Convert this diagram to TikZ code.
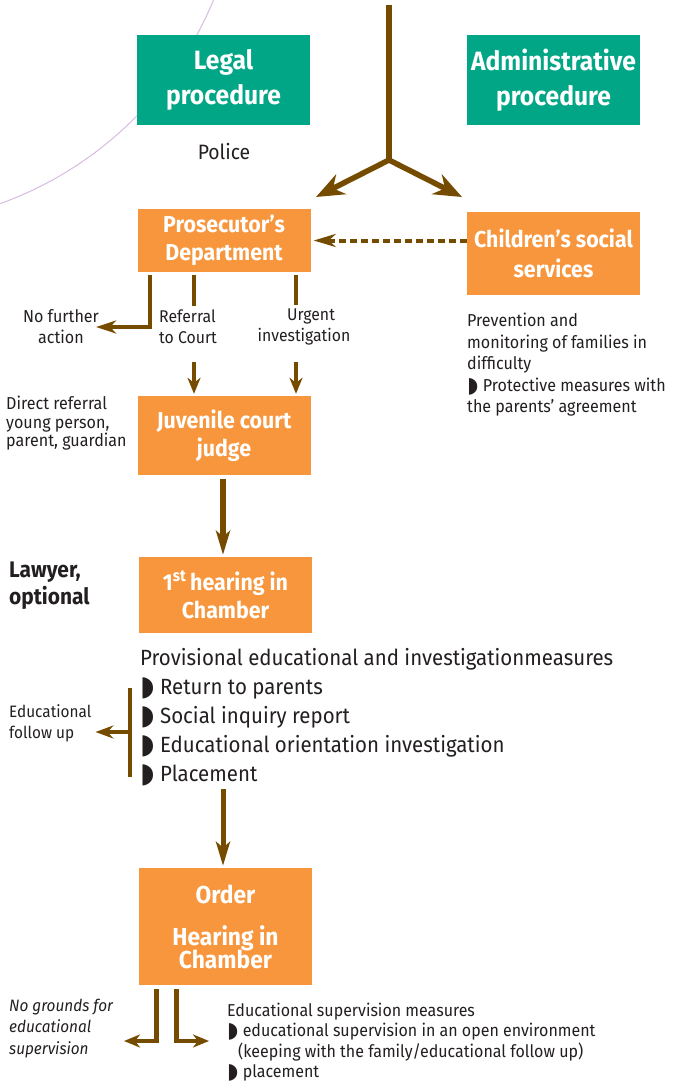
\documentclass[tikz,border=0pt]{standalone}
\usepackage{fontspec}
\setmainfont{Fira Sans}[FakeStretch=0.93]
\newfontfamily\bulfont{DejaVu Sans}
\usetikzlibrary{arrows.meta}

\definecolor{procgreen}{RGB}{0,166,133}
\definecolor{stageorange}{RGB}{247,150,60}
\definecolor{flowbrown}{RGB}{117,75,0}
\definecolor{arcpurple}{RGB}{214,188,224}
\definecolor{inkgray}{RGB}{35,31,32}

\newcommand{\bul}{\raisebox{-0.06em}{\scalebox{1.25}{\bulfont\char"25D7}}}

\tikzset{
  procbox/.style={fill=procgreen,text=white,font=\fontsize{26.5}{35}\selectfont\bfseries,
    minimum width=173pt,minimum height=90pt,align=center,inner sep=0pt},
  stagebox/.style={fill=stageorange,text=white,font=\fontsize{23}{28}\selectfont\bfseries,
    minimum width=173pt,align=center,inner sep=0pt},
  note/.style={text=inkgray,font=\fontsize{17.3}{21}\selectfont,inner sep=0pt},
  flow/.style={draw=flowbrown,line width=5.5pt},
  branch/.style={draw=flowbrown,line width=4.5pt},
}

\begin{document}
\begin{tikzpicture}[x=1pt,y=-1pt]
      \useasboundingbox (0,0) rectangle (674,1084);
      \begin{scope}
        \clip (0,0) rectangle (674,1084);
        \draw[arcpurple,line width=1pt] (-123,-139) circle (364pt);
      \end{scope}

      \path (223.5,80) node [procbox](legal){Legal\\procedure};
      \path (553.5,80) node [procbox](admin){Administrative\\procedure};
      \path (224,152) node [note,font=\fontsize{20.8}{24}\selectfont](police){Police};

      \path (224,240.5) node [stagebox,minimum height=63pt](prosec){Prosecutor’s\\Department};
      \path (553.5,253.5) node [stagebox,minimum height=83pt,font=\fontsize{23}{30}\selectfont\bfseries](social){Children’s social\\services};
      \path (224,435.5) node [stagebox,minimum height=79pt](judge){Juvenile court\\judge};
      \path (225.5,595) node [stagebox,minimum height=76pt](hearing){1\textsuperscript{st}\,hearing in\\Chamber};
      \path (225.5,926.5) node [stagebox,minimum height=117pt,font=\fontsize{24.5}{28}\selectfont\bfseries](order){Order\\[14pt]Hearing in\\[-5pt]Chamber};

      % entry into the two procedures
      \coordinate (entry) at (389,5);
      \coordinate (fork) at (389,160);
      \coordinate (legal_tip) at (316,197);
      \coordinate (admin_tip) at (462,197);
      \draw[flow] (entry) -- (fork);
      \draw[flow,-{Stealth[length=28pt,width=22pt,inset=9pt]}] (fork) -- (legal_tip);
      \draw[flow,-{Stealth[length=28pt,width=22pt,inset=9pt]}] (fork) -- (admin_tip);
      \draw[branch,line width=4pt,dash pattern=on 7pt off 4pt,-{Stealth[length=22pt,width=13pt,inset=7pt]}]
        (social.west |- prosec.east) -- ([xshift=3pt]prosec.east);

      % outcomes of the prosecutor
      \path (61,327) node [note,align=center](nfa){No further\\action};
      \path (159,327) node [note,align=left,anchor=west,font=\fontsize{17}{21}\selectfont](referral){Referral\\to Court};
      \path (304,327) node [note,align=center,font=\fontsize{17}{21}\selectfont](urgent){\hspace*{14pt}Urgent\\investigation};
      \draw[branch,-{Stealth[length=20pt,width=13pt,inset=6pt]}]
        ([xshift=-74pt,yshift=-3pt]prosec.south) |- ([xshift=-3pt]nfa.east);
      \draw[branch] ([xshift=-30pt,yshift=-3pt]prosec.south) -- ++(0,31);
      \draw[branch] ([xshift=72pt,yshift=-3pt]prosec.south) -- ++(0,30);
      \coordinate (ref_a) at (194,362);
      \coordinate (urg_a) at (296,362);
      \draw[branch,-{Stealth[length=16pt,width=13pt,inset=5pt]},shorten >=2pt] (ref_a) -- (ref_a |- judge.north);
      \draw[branch,-{Stealth[length=16pt,width=13pt,inset=5pt]},shorten >=2pt] (urg_a) -- (urg_a |- judge.north);

      \path (467,313) node [note,align=left,anchor=north west,font=\fontsize{17.3}{21.5}\selectfont](prevent){Prevention and\\monitoring of families in\\difficulty\\\bul\ Protective measures with\\the parents’ agreement};
      \path (6,396) node [note,align=left,anchor=north west,font=\fontsize{17.3}{18.5}\selectfont](direct){Direct referral\\young person,\\parent, guardian};

      \draw[flow,-{Stealth[length=24pt,width=14pt,inset=6pt]},shorten >=2pt] ([xshift=-1pt,yshift=-4pt]judge.south) -- ([xshift=-1pt]judge.south |- hearing.north);
      \path (9,586) node [note,align=left,anchor=west,font=\fontsize{22.5}{27}\selectfont\bfseries](lawyer){Lawyer,\\optional};

      \path (140,659) node [note,anchor=west,font=\fontsize{22}{24}\selectfont](prov){Provisional educational and investigationmeasures};
      \path (140,732) node [note,align=left,anchor=west,font=\fontsize{22}{29}\selectfont](measures){\bul\ Return to parents\\\bul\ Social inquiry report\\\bul\ Educational orientation investigation\\\bul\ Placement};
      \coordinate (brace_top) at (130,688);
      \coordinate (brace_bot) at (130,777);
      \coordinate (brace_mid) at (130,732);
      \path (9,723) node [note,align=left,anchor=west,font=\fontsize{16.5}{21}\selectfont](follow){Educational\\follow up};
      \draw[branch,line width=3.5pt] (brace_top) -- (brace_bot);
      \draw[branch,line width=3.5pt,-{Stealth[length=18pt,width=13pt,inset=6pt]}] (brace_mid) -- ([xshift=4pt]follow.east |- brace_mid);

      \draw[flow,line width=5pt,-{Stealth[length=24pt,width=14pt,inset=6pt]},shorten >=2pt] ([xshift=-2.5pt,yshift=-156pt]hearing.south) -- ([xshift=-2.5pt]order.north);

      % after the order
      \path (9,1028.5) node [note,align=left,anchor=west,font=\fontsize{16.5}{21.5}\selectfont\itshape](nogrounds){No grounds for\\educational\\supervision};
      \path (227,1042) node [note,align=left,anchor=west,font=\fontsize{17.2}{20.4}\selectfont](supervision){Educational supervision measures\\\bul\ educational supervision in an open environment\\\hspace*{11pt}(keeping with the family/educational follow up)\\\bul\ placement};
      \coordinate (no_tip) at (124,1041);
      \coordinate (yes_tip) at (209,1041);
      \draw[branch,-{Stealth[length=16pt,width=13pt,inset=5pt]}] ([xshift=-69pt,yshift=-4pt]order.south) |- (no_tip);
      \draw[branch,-{Stealth[length=16pt,width=13pt,inset=5pt]}] ([xshift=-49pt,yshift=-4pt]order.south) |- (yes_tip);

    \end{tikzpicture}
\end{document}
